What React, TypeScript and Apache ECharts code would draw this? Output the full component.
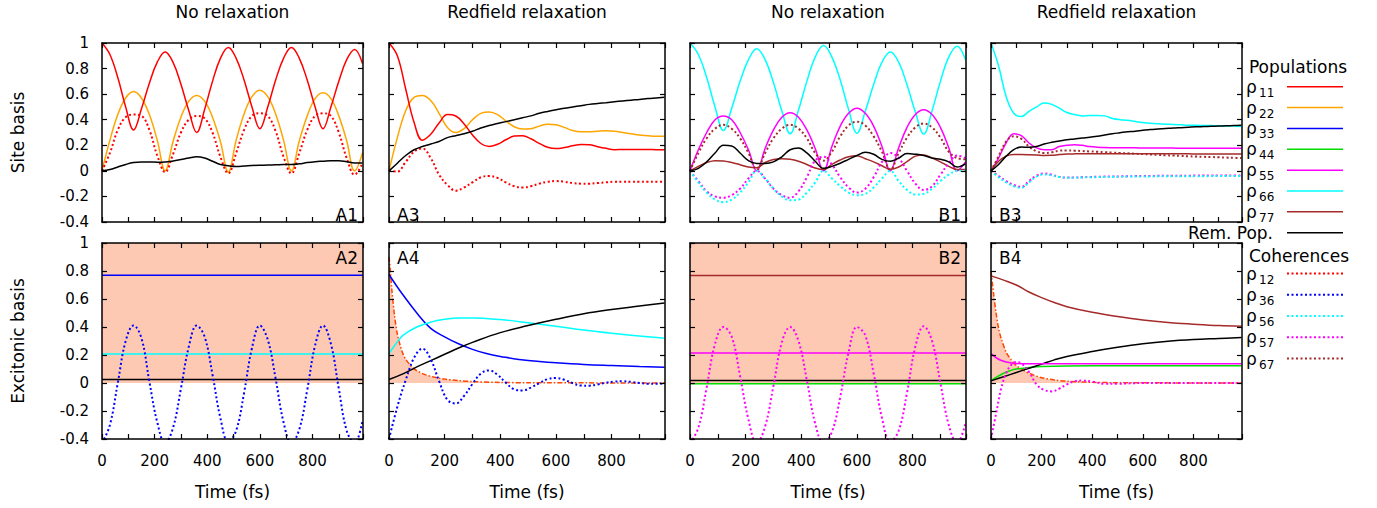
import React, { useEffect, useRef } from 'react';
import * as echarts from 'echarts';

// ---------- data (time in fs) ----------
const T = [0, 30, 60, 90, 120, 150, 180, 210, 240, 270, 300, 330, 360, 390, 420, 450, 480, 510, 540, 570, 600, 630, 660, 690, 720, 750, 780, 810, 840, 870, 900, 930, 960, 990];
const X_MAX = 992;

// A1: site basis, no relaxation
const a1_r11 = [1, .91, .73, .50, .32, .485, .686, .85, .93, .848, .678, .47, .30, .48, .70, .88, .965, .88, .71, .50, .33, .50, .71, .88, .965, .88, .71, .50, .33, .50, .70, .87, .95, .84];
const a1_r22 = [0, .24, .44, .57, .62, .57, .44, .24, 0, .23, .42, .545, .59, .545, .42, .23, -.01, .24, .445, .58, .63, .58, .445, .24, 0, .235, .43, .565, .61, .565, .43, .235, 0, .14];
const a1_r12 = [0, .14, .32, .42, .44, .43, .32, .12, -.01, .13, .30, .40, .43, .41, .30, .11, -.02, .14, .32, .43, .45, .43, .31, .11, -.02, .14, .32, .43, .45, .43, .30, .10, -.03, .06];
const a1_rem = [0, .01, .03, .05, .065, .07, .07, .068, .07, .078, .088, .10, .11, .10, .075, .05, .04, .035, .038, .042, .044, .045, .047, .05, .05, .055, .065, .072, .076, .08, .08, .072, .062, .062];

// A3: site basis, Redfield
const a3_r11 = [1.0, .9, .64, .38, .24, .286, .375, .44, .429, .367, .281, .214, .19, .208, .243, .272, .275, .251, .215, .184, .174, .182, .196, .206, .204, .189, .176, .166, .167, .168, .168, .167, .166, .165];
const a3_r22 = [0, .26, .47, .575, .59, .55, .45, .34, .30, .33, .40, .45, .46, .44, .39, .345, .327, .33, .35, .365, .36, .34, .315, .305, .305, .31, .313, .31, .30, .29, .28, .275, .27, .27];
const a3_r12 = [0, -.005, .07, .15, .175, .1, -.03, -.11, -.155, -.13, -.09, -.05, -.04, -.055, -.09, -.12, -.13, -.12, -.10, -.085, -.08, -.085, -.095, -.10, -.10, -.095, -.09, -.085, -.085, -.085, -.085, -.085, -.085, -.085];
const a3_rem = [0, .06, .12, .165, .19, .21, .23, .26, .275, .29, .31, .335, .355, .37, .385, .40, .415, .43, .45, .465, .478, .49, .50, .51, .52, .527, .533, .54, .547, .553, .558, .565, .57, .575];

// B1: site basis, no relaxation
const b1_r66 = [1.0, .91, .73, .50, .315, .49, .70, .87, .955, .87, .69, .47, .29, .476, .70, .89, .98, .89, .71, .48, .295, .466, .676, .85, .93, .85, .673, .46, .288, .47, .70, .89, .975, .87];
const b1_r55 = [0, .165, .30, .40, .43, .40, .30, .165, 0, .175, .32, .42, .455, .42, .32, .175, 0, .19, .35, .45, .49, .45, .35, .19, 0, .18, .34, .44, .477, .44, .34, .18, 0, .07];
const b1_r77 = [0, .035, .065, .08, .078, .065, .048, .03, .025, .065, .088, .094, .09, .075, .05, .022, .01, .05, .085, .11, .118, .095, .07, .04, .012, .03, .072, .115, .125, .1, .07, .035, .01, .01];
const b1_r67 = [0, .14, .255, .33, .36, .33, .255, .14, .01, .14, .255, .33, .36, .33, .255, .14, .08, .15, .27, .355, .385, .355, .27, .15, .01, .14, .26, .34, .37, .34, .26, .15, .1, .09];
const b1_r57 = [0, -.08, -.16, -.2, -.21, -.19, -.14, -.06, 0, -.06, -.14, -.19, -.21, -.16, -.05, .08, .11, .05, -.05, -.13, -.17, -.14, -.05, .07, .14, .1, 0, -.1, -.15, -.12, -.03, .06, .12, .1];
const b1_r56 = [0, -.09, -.17, -.225, -.245, -.225, -.17, -.09, 0, -.06, -.14, -.2, -.23, -.225, -.17, -.09, 0, -.06, -.12, -.17, -.19, -.18, -.13, -.06, 0, -.08, -.15, -.185, -.18, -.14, -.08, -.03, 0, 0];
const b1_rem = [0, .02, .07, .14, .2, .195, .14, .08, .058, .058, .07, .11, .165, .178, .14, .075, .02, .035, .06, .09, .12, .145, .13, .09, .075, .10, .135, .13, .12, .10, .09, .07, .03, .055];

// B3: site basis, Redfield
const b3_r66 = [1.0, .82, .58, .45, .425, .465, .50, .53, .52, .49, .456, .44, .43, .433, .433, .43, .41, .40, .395, .386, .378, .372, .368, .365, .363, .36, .357, .356, .355, .354, .352, .351, .35, .347];
const b3_r55 = [0, .1, .22, .29, .275, .218, .18, .166, .166, .19, .2, .205, .2, .19, .185, .182, .181, .18, .18, .18, .179, .179, .178, .178, .178, .177, .177, .177, .177, .176, .176, .176, .176, .176];
const b3_r77 = [0, .075, .115, .127, .127, .126, .124, .121, .122, .127, .131, .133, .134, .134, .134, .134, .134, .134, .134, .133, .133, .133, .133, .133, .133, .133, .133, .132, .132, .132, .132, .132, .132, .132];
const b3_r67 = [0, .115, .23, .27, .25, .19, .153, .14, .145, .158, .16, .158, .155, .152, .149, .146, .143, .14, .137, .134, .131, .128, .125, .122, .12, .117, .114, .112, .11, .108, .106, .104, .102, .1];
const b3_r57 = [0, -.04, -.08, -.11, -.125, -.08, -.037, -.02, -.03, -.047, -.052, -.052, -.05, -.048, -.046, -.045, -.044, -.043, -.042, -.041, -.04, -.04, -.039, -.039, -.038, -.038, -.038, -.037, -.037, -.037, -.036, -.036, -.036, -.036];
const b3_r56 = [0, -.05, -.09, -.12, -.132, -.09, -.045, -.028, -.035, -.048, -.053, -.053, -.051, -.05, -.049, -.048, -.047, -.046, -.045, -.045, -.044, -.044, -.043, -.043, -.043, -.042, -.042, -.042, -.042, -.041, -.041, -.041, -.041, -.041];
const b3_rem = [0, .05, .115, .166, .187, .184, .19, .21, .223, .233, .244, .25, .257, .262, .27, .28, .29, .298, .306, .31, .318, .323, .327, .331, .335, .338, .341, .344, .346, .348, .35, .352, .354, .356];

// A2: excitonic basis, no relaxation
const a2_fill = [[0, 1], [X_MAX, 1]];
const a2_r33 = [[0, .77], [X_MAX, .77]];
const a2_r66 = [[0, .207], [X_MAX, .207]];
const a2_rem = [[0, .025], [X_MAX, .025]];
const a2_r36 = [-.43, -.3, 0, .3, .41, .32, .01, -.28, -.43, -.32, -.04, .26, .41, .33, .06, -.25, -.42, -.34, -.07, .25, .41, .31, .03, -.28, -.43, -.33, -.05, .27, .41, .28, -.04, -.34, -.43, -.27];

// A4: excitonic basis, Redfield
const a4_fill = [[0, .9], [5, .8], [10, .67], [20, .48], [30, .35], [40, .27], [50, .21], [60, .17], [80, .12], [100, .088], [130, .06], [160, .043], [200, .028], [250, .017], [300, .01], [400, .004], [500, .002], [990, 0]];
const a4_r33 = [[0, .775], [25, .70], [50, .63], [100, .50], [150, .39], [200, .33], [250, .28], [300, .24], [350, .21], [400, .19], [500, .16], [600, .145], [700, .133], [800, .125], [900, .118], [990, .113]];
const a4_r66 = [[0, .21], [25, .28], [50, .34], [100, .40], [150, .435], [200, .455], [250, .465], [300, .465], [400, .453], [500, .43], [600, .405], [700, .378], [800, .355], [900, .335], [990, .32]];
const a4_rem = [[0, .025], [50, .065], [100, .115], [150, .16], [200, .205], [250, .25], [300, .29], [400, .36], [500, .41], [600, .455], [700, .495], [800, .525], [900, .55], [990, .572]];
const a4_r36 = [-.4, -.17, .02, .18, .245, .17, .013, -.12, -.146, -.092, -.007, .067, .09, .059, .002, -.045, -.053, -.033, -.001, .027, .036, .023, -.001, -.018, -.019, -.01, .002, .01, .012, .008, 0, -.005, -.006, -.002];

// B2: excitonic basis, no relaxation
const b2_fill = [[0, 1], [X_MAX, 1]];
const b2_r77 = [[0, .767], [X_MAX, .767]];
const b2_r55 = [[0, .214], [X_MAX, .214]];
const b2_r44 = [[0, -.005], [X_MAX, -.005]];
const b2_rem = [[0, .017], [X_MAX, .017]];
const b2_r57 = [-.43, -.32, -.03, .28, .40, .33, .05, -.26, -.43, -.31, -.02, .29, .40, .3, .02, -.29, -.43, -.35, -.1, .22, .40, .34, .07, -.25, -.42, -.34, -.07, .26, .405, .30, 0, -.3, -.43, -.29];

// B4: excitonic basis, Redfield
const b4_fill = [[0, .8], [5, .72], [10, .64], [20, .5], [30, .39], [40, .32], [60, .22], [80, .165], [100, .125], [130, .088], [160, .062], [200, .038], [250, .022], [300, .013], [400, .005], [500, .002], [990, 0]];
const b4_r77 = [[0, .765], [50, .735], [100, .70], [150, .65], [200, .61], [250, .575], [300, .545], [400, .505], [500, .475], [600, .45], [700, .432], [800, .42], [900, .41], [990, .405]];
const b4_rem = [[0, .015], [50, .045], [100, .075], [150, .105], [200, .135], [250, .165], [300, .19], [400, .225], [500, .255], [600, .28], [700, .298], [800, .31], [900, .318], [990, .325]];
const b4_r55 = [[0, .21], [25, .175], [50, .155], [75, .145], [100, .14], [150, .138], [300, .138], [990, .138]];
const b4_r44 = [[0, .015], [25, .045], [50, .07], [75, .088], [100, .1], [150, .11], [200, .117], [300, .122], [500, .124], [990, .124]];
const b4_r57 = [[0, -.4], [20, -.22], [40, -.04], [60, .07], [80, .13], [100, .15], [120, .14], [150, .08], [180, -.01], [210, -.05], [240, -.06], [270, -.04], [300, -.01], [330, .012], [360, .017], [400, .01], [450, -.005], [500, -.005], [600, 0], [990, 0]];

// labels
const COL_TITLES = ['No relaxation', 'Redfield relaxation', 'No relaxation', 'Redfield relaxation'];
const ROW_TITLES = ['Site basis', 'Excitonic basis'];
const PANEL_NAMES = [['A1', 'A3', 'B1', 'B3'], ['A2', 'A4', 'B2', 'B4']];
const POP_SUBS = ['11', '22', '33', '44', '55', '66', '77'];
const COH_SUBS = ['12', '36', '56', '57', '67'];

// ---------- styles / layout ----------
const FONT = "'DejaVu Sans', 'Liberation Sans', sans-serif";
const RED = '#ff0000', ORANGE = '#ffa500', BLUE = '#0000ff', GREEN = '#00dd00', MAGENTA = '#ff00ff', CYAN = '#00ffff', BROWN = '#a52a2a', BLACK = '#000000';
const SALMON = '#fdc9b2', FILL_LINE = '#ff4500';
const POP_COLORS = [RED, ORANGE, BLUE, GREEN, MAGENTA, CYAN, BROWN];
const COH_COLORS = [RED, BLUE, CYAN, MAGENTA, BROWN];
const COLS = [{ left: 102, width: 261 }, { left: 389, width: 276 }, { left: 690, width: 276 }, { left: 991, width: 251 }];
const ROWS = [{ top: 43, height: 179 }, { top: 243, height: 196 }];

const onT = (ys: number[]) => T.map((t, i) => [t, ys[i]]);

function ln(g: number, data: any[], color: string, kind: string, extra: any = {}) {
  const lineStyle: any = {
    color,
    width: kind === 'dot' ? 2 : kind === 'none' ? 0 : 1.5,
    type: kind === 'dot' ? [2, 2.5] : kind === 'dashdot' ? [5, 2, 1.5, 2] : 'solid',
    cap: 'butt',
  };
  return {
    type: 'line', xAxisIndex: 2 * g, yAxisIndex: 2 * g, data, symbol: 'none', showSymbol: false,
    smooth: 0.4, lineStyle, silent: true, z: 2, ...extra,
  };
}
const fill = (g: number, data: any[], kind: string) =>
  ln(g, data, FILL_LINE, kind, { areaStyle: { color: SALMON, opacity: 1 }, z: 1, smooth: 0.3 });

function buildOption() {
  const grid: any[] = [], xAxis: any[] = [], yAxis: any[] = [], graphic: any[] = [];
  const axisLine = { show: true, onZero: false, lineStyle: { color: '#000', width: 1.5 } };
  const tick = { show: true, inside: true, length: 5, lineStyle: { color: '#000', width: 1.2 } };
  for (let r = 0; r < 2; r++) {
    for (let c = 0; c < 4; c++) {
      const g = r * 4 + c;
      grid.push({ left: COLS[c].left, top: ROWS[r].top, width: COLS[c].width, height: ROWS[r].height, containLabel: false });
      xAxis.push({
        type: 'value', gridIndex: g, position: 'bottom', min: 0, max: X_MAX, interval: 100, z: 5,
        axisLine, axisTick: tick, splitLine: { show: false },
        axisLabel: {
          show: r === 1, margin: 14, fontSize: 15, fontFamily: FONT, color: '#000',
          formatter: (v: number) => (v % 200 === 0 ? String(v) : ''),
        },
      });
      xAxis.push({
        type: 'value', gridIndex: g, position: 'top', min: 0, max: X_MAX, interval: 100, z: 5,
        axisLine, axisTick: tick, splitLine: { show: false }, axisLabel: { show: false },
      });
      yAxis.push({
        type: 'value', gridIndex: g, position: 'left', min: -0.4, max: 1, interval: 0.2, z: 5,
        axisLine, axisTick: tick, splitLine: { show: false },
        axisLabel: {
          show: c === 0, margin: 13, fontSize: 15, fontFamily: FONT, color: '#000',
          formatter: (v: number) => String(Math.round(v * 10) / 10),
        },
      });
      yAxis.push({
        type: 'value', gridIndex: g, position: 'right', min: -0.4, max: 1, interval: 0.2, z: 5,
        axisLine, axisTick: tick, splitLine: { show: false }, axisLabel: { show: false },
      });
      // panel name
      const name = PANEL_NAMES[r][c];
      const rightSide = c === 0 || c === 2;
      const x = rightSide ? COLS[c].left + COLS[c].width - 5 : COLS[c].left + 8;
      const y = r === 0 ? ROWS[r].top + ROWS[r].height + 1 : ROWS[r].top + 6;
      graphic.push({
        type: 'text', x, y, z: 10,
        style: { text: name, fontSize: 17, fontFamily: FONT, fill: '#000', align: rightSide ? 'right' : 'left', verticalAlign: r === 0 ? 'bottom' : 'top' },
      });
      if (r === 1) {
        graphic.push({
          type: 'text', x: COLS[c].left + COLS[c].width / 2, y: 492, z: 10,
          style: { text: 'Time (fs)', fontSize: 17, fontFamily: FONT, fill: '#000', align: 'center', verticalAlign: 'middle' },
        });
      }
    }
  }
  COL_TITLES.forEach((t, c) => graphic.push({
    type: 'text', x: COLS[c].left + COLS[c].width / 2, y: 12, z: 10,
    style: { text: t, fontSize: 17, fontFamily: FONT, fill: '#000', align: 'center', verticalAlign: 'middle' },
  }));
  ROW_TITLES.forEach((t, r) => graphic.push({
    type: 'text', x: 18, y: ROWS[r].top + ROWS[r].height / 2, rotation: Math.PI / 2, z: 10,
    style: { text: t, fontSize: 17, fontFamily: FONT, fill: '#000', align: 'center', verticalAlign: 'middle' },
  }));

  // legend
  const LX1 = 1287, LX2 = 1343;
  graphic.push({ type: 'text', x: 1298, y: 67, z: 10, style: { text: 'Populations', fontSize: 17, fontFamily: FONT, fill: '#000', align: 'center', verticalAlign: 'middle' } });
  const rho = (y: number, sub: string, color: string, dotted: boolean) => {
    graphic.push({ type: 'text', x: 1246, y: y, z: 10, style: { text: 'ρ', fontSize: 17, fontFamily: FONT, fill: '#000', align: 'left', verticalAlign: 'middle' } });
    graphic.push({ type: 'text', x: 1259, y: y + 6, z: 10, style: { text: sub, fontSize: 12, fontFamily: FONT, fill: '#000', align: 'left', verticalAlign: 'middle' } });
    graphic.push({
      type: 'line', z: 10, shape: { x1: LX1, y1: y, x2: LX2, y2: y },
      style: { stroke: color, lineWidth: dotted ? 2 : 1.5, lineDash: dotted ? [2, 2.5] : null },
    });
  };
  POP_SUBS.forEach((s, i) => rho(86.7 + i * 20.86, s, POP_COLORS[i], false));
  const remY = 86.7 + 7 * 20.86;
  graphic.push({ type: 'text', x: 1273, y: remY, z: 10, style: { text: 'Rem. Pop.', fontSize: 17, fontFamily: FONT, fill: '#000', align: 'right', verticalAlign: 'middle' } });
  graphic.push({ type: 'line', z: 10, shape: { x1: LX1, y1: remY, x2: LX2, y2: remY }, style: { stroke: BLACK, lineWidth: 1.5 } });
  graphic.push({ type: 'text', x: 1299, y: 256, z: 10, style: { text: 'Coherences', fontSize: 17, fontFamily: FONT, fill: '#000', align: 'center', verticalAlign: 'middle' } });
  COH_SUBS.forEach((s, i) => rho(273.5 + i * 21.25, s, COH_COLORS[i], true));

  const series: any[] = [
    // A1
    ln(0, onT(a1_r22), ORANGE, 'solid'), ln(0, onT(a1_r11), RED, 'solid'), ln(0, onT(a1_r12), RED, 'dot'), ln(0, onT(a1_rem), BLACK, 'solid'),
    // A3
    ln(1, onT(a3_r22), ORANGE, 'solid'), ln(1, onT(a3_r11), RED, 'solid'), ln(1, onT(a3_r12), RED, 'dot'), ln(1, onT(a3_rem), BLACK, 'solid'),
    // B1
    ln(2, onT(b1_r66), CYAN, 'solid'), ln(2, onT(b1_r55), MAGENTA, 'solid'), ln(2, onT(b1_r77), BROWN, 'solid'),
    ln(2, onT(b1_r67), BROWN, 'dot'), ln(2, onT(b1_r57), MAGENTA, 'dot'), ln(2, onT(b1_r56), CYAN, 'dot'), ln(2, onT(b1_rem), BLACK, 'solid'),
    // B3
    ln(3, onT(b3_r66), CYAN, 'solid'), ln(3, onT(b3_r55), MAGENTA, 'solid'), ln(3, onT(b3_r77), BROWN, 'solid'),
    ln(3, onT(b3_r67), BROWN, 'dot'), ln(3, onT(b3_r57), MAGENTA, 'dot'), ln(3, onT(b3_r56), CYAN, 'dot'), ln(3, onT(b3_rem), BLACK, 'solid'),
    // A2
    fill(4, a2_fill, 'none'), ln(4, a2_r33, BLUE, 'solid'), ln(4, a2_r66, CYAN, 'solid'), ln(4, a2_rem, BLACK, 'solid'), ln(4, onT(a2_r36), BLUE, 'dot'),
    // A4
    fill(5, a4_fill, 'dashdot'), ln(5, a4_r33, BLUE, 'solid'), ln(5, a4_r66, CYAN, 'solid'), ln(5, a4_rem, BLACK, 'solid'), ln(5, onT(a4_r36), BLUE, 'dot'),
    // B2
    fill(6, b2_fill, 'none'), ln(6, b2_r77, BROWN, 'solid'), ln(6, b2_r55, MAGENTA, 'solid'), ln(6, b2_r44, GREEN, 'solid'), ln(6, b2_rem, BLACK, 'solid'), ln(6, onT(b2_r57), MAGENTA, 'dot'),
    // B4
    fill(7, b4_fill, 'dashdot'), ln(7, b4_r77, BROWN, 'solid'), ln(7, b4_r44, GREEN, 'solid'), ln(7, b4_rem, BLACK, 'solid'), ln(7, b4_r55, MAGENTA, 'solid'), ln(7, b4_r57, MAGENTA, 'dot'),
  ];

  return {
    animation: false,
    backgroundColor: '#ffffff',
    textStyle: { fontFamily: FONT },
    grid, xAxis, yAxis, series, graphic,
  };
}

export default function App() {
  const ref = useRef<HTMLDivElement>(null);
  useEffect(() => {
    const chart = echarts.init(ref.current as HTMLDivElement, undefined, { renderer: 'svg' });
    chart.setOption(buildOption() as any);
    return () => chart.dispose();
  }, []);
  return <div ref={ref} style={{ position: 'fixed', left: 0, top: 0, width: 1377, height: 508 }} />;
}
